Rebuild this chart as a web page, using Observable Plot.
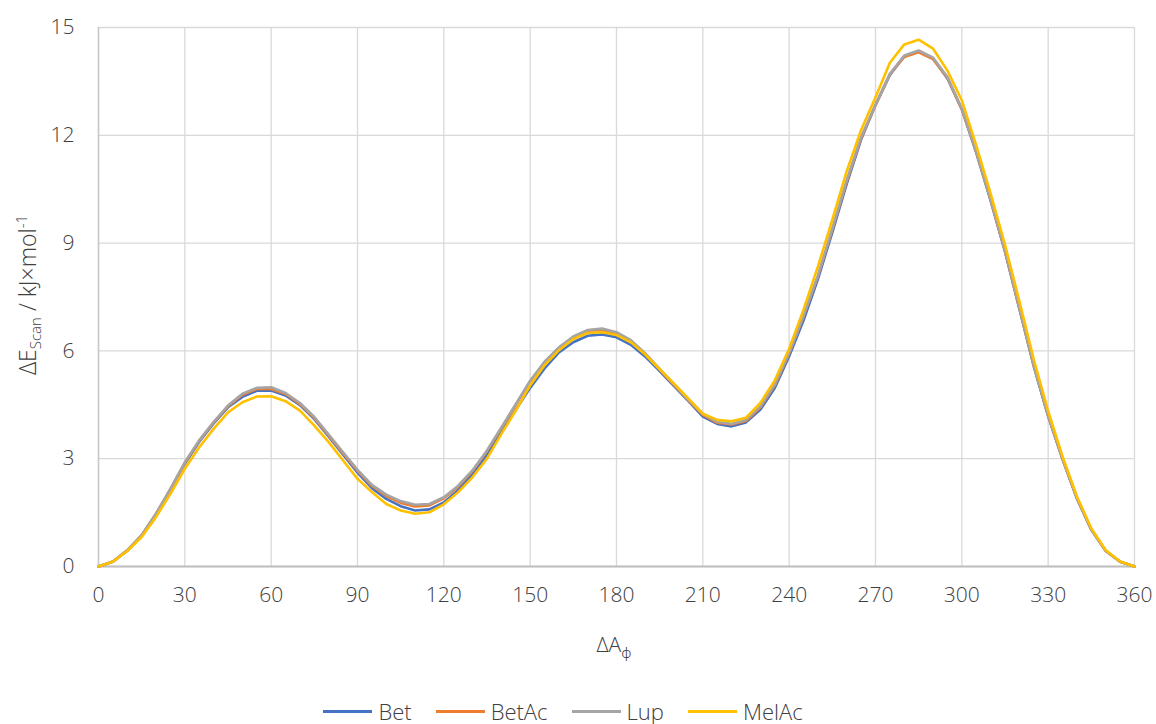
<!DOCTYPE html>
<html>
<head>
<meta charset="utf-8">
<script src="https://cdn.jsdelivr.net/npm/d3@7"></script>
<script src="https://cdn.jsdelivr.net/npm/@observablehq/plot@0.6"></script>
<style>
  html, body { margin: 0; padding: 0; background: #fff; }
  body { width: 1156px; height: 724px; overflow: hidden; font-family: "Open Sans", "Noto Sans", sans-serif; }
  #chart { height: 680px; }
  #chart svg { display: block; }
  #chart svg text { font-weight: 300; }
  #legend { display: flex; justify-content: center; align-items: center; height: 24px; line-height: 24px; font-size: 22px; font-weight: 300; color: #404040; margin-top: 19px; margin-left: -30px; }
  .item { display: flex; align-items: center; margin: 0 12px; }
  .swatch { width: 49px; height: 0; border-top: 3px solid; margin-right: 6px; }
</style>
</head>
<body>
<div id="chart"></div>
<div id="legend"></div>
<script>
const angles = [0,5,10,15,20,25,30,35,40,45,50,55,60,65,70,75,80,85,90,95,100,105,110,115,120,125,130,135,140,145,150,155,160,165,170,175,180,185,190,195,200,205,210,215,220,225,230,235,240,245,250,255,260,265,270,275,280,285,290,295,300,305,310,315,320,325,330,335,340,345,350,355,360];

const seriesNames = ["Bet", "BetAc", "Lup", "MelAc"];
const seriesColors = ["#4472C4", "#ED7D31", "#A5A5A5", "#FFC000"];

const bet = [0,0.13,0.44,0.86,1.46,2.14,2.86,3.47,3.98,4.43,4.72,4.89,4.90,4.76,4.49,4.10,3.61,3.11,2.61,2.18,1.88,1.68,1.56,1.59,1.78,2.13,2.58,3.12,3.74,4.36,4.97,5.51,5.96,6.24,6.42,6.46,6.38,6.17,5.84,5.44,5.02,4.60,4.17,3.97,3.90,4.01,4.37,4.97,5.85,6.85,8.00,9.30,10.65,11.88,12.84,13.68,14.20,14.33,14.14,13.58,12.72,11.52,10.18,8.76,7.17,5.57,4.18,2.98,1.89,1.02,0.43,0.13,0];

const betAc = [0,0.14,0.45,0.87,1.47,2.15,2.89,3.50,4.01,4.46,4.78,4.94,4.94,4.80,4.52,4.13,3.64,3.15,2.66,2.24,1.96,1.77,1.67,1.70,1.90,2.22,2.66,3.21,3.85,4.50,5.15,5.68,6.08,6.38,6.56,6.58,6.49,6.28,5.91,5.48,5.05,4.62,4.22,4.00,3.95,4.05,4.43,5.04,5.93,6.96,8.08,9.38,10.72,11.92,12.84,13.70,14.18,14.31,14.12,13.60,12.72,11.54,10.20,8.78,7.19,5.59,4.19,2.99,1.90,1.03,0.44,0.13,0];

const lup = [0,0.14,0.45,0.87,1.47,2.16,2.90,3.51,4.02,4.48,4.81,4.97,4.99,4.83,4.55,4.16,3.67,3.18,2.69,2.27,2.00,1.82,1.72,1.74,1.93,2.25,2.68,3.23,3.87,4.52,5.17,5.70,6.10,6.40,6.58,6.62,6.52,6.30,5.93,5.50,5.07,4.64,4.25,4.03,3.97,4.08,4.46,5.07,5.95,6.98,8.10,9.40,10.75,11.95,12.85,13.71,14.22,14.36,14.16,13.62,12.74,11.55,10.22,8.80,7.20,5.60,4.20,3.00,1.90,1.03,0.44,0.13,0];

const melAc = [0,0.13,0.43,0.82,1.38,2.02,2.72,3.32,3.83,4.29,4.57,4.73,4.74,4.60,4.34,3.92,3.46,2.95,2.44,2.07,1.74,1.56,1.47,1.51,1.73,2.07,2.49,3.00,3.69,4.34,5.04,5.60,6.02,6.33,6.50,6.52,6.44,6.24,5.90,5.49,5.09,4.67,4.25,4.08,4.04,4.14,4.55,5.18,6.06,7.15,8.35,9.65,11.00,12.15,13.06,14.02,14.53,14.66,14.41,13.80,12.97,11.72,10.38,8.95,7.38,5.76,4.32,3.06,1.95,1.06,0.45,0.14,0];

const xTicks = [0,30,60,90,120,150,180,210,240,270,300,330,360];
const yTicks = [0,3,6,9,12,15];

const valueSets = [bet, betAc, lup, melAc];
const rows = [];
seriesNames.forEach((name, i) => {
  angles.forEach((a, j) => rows.push({series: name, angle: a, energy: valueSets[i][j]}));
});

const W = 1156, H = 680;
const chart = Plot.plot({
  width: W,
  height: H,
  marginTop: 27,
  marginBottom: 114,
  marginLeft: 98,
  marginRight: 22,
  style: { fontFamily: "'Open Sans', 'Noto Sans', sans-serif", fontSize: "21px", color: "#404040", background: "#fff" },
  x: { domain: [0, 360] },
  y: { domain: [0, 15] },
  color: { domain: seriesNames, range: seriesColors },
  marks: [
    Plot.gridX(xTicks, { stroke: "#d9d9d9", strokeOpacity: 1, strokeWidth: 1.3 }),
    Plot.gridY(yTicks, { stroke: "#d9d9d9", strokeOpacity: 1, strokeWidth: 1.3 }),
    Plot.ruleX([0], { stroke: "#c8c8c8", strokeWidth: 1.5 }),
    Plot.ruleY([0], { stroke: "#bfbfbf", strokeWidth: 2 }),
    Plot.axisX(xTicks, { tickSize: 0, tickPadding: 21, label: null, fontSize: 21, fill: "#404040" }),
    Plot.axisY(yTicks, { tickSize: 0, tickPadding: 24, label: null, fontSize: 21, fill: "#404040" }),
    Plot.line(rows, { x: "angle", y: "energy", z: "series", stroke: "series", strokeWidth: 2.6, curve: "linear" })
  ]
});
document.getElementById("chart").appendChild(chart);

const svg = d3.select(chart);
// y-axis title
const yt = svg.append("text")
  .attr("transform", "translate(36,295) rotate(-90)")
  .attr("text-anchor", "middle")
  .attr("font-size", 23)
  .attr("fill", "#404040");
yt.append("tspan").text("ΔE");
yt.append("tspan").attr("dy", 5).attr("font-size", 15).text("Scan");
yt.append("tspan").attr("dy", -5).text(" / kJ×mol");
yt.append("tspan").attr("dy", -9).attr("font-size", 15).text("-1");

// x-axis title
const xt = svg.append("text")
  .attr("x", 614).attr("y", 652)
  .attr("text-anchor", "middle")
  .attr("font-size", 21)
  .attr("fill", "#404040");
xt.append("tspan").text("ΔA");
xt.append("tspan").attr("dy", 6).attr("font-size", 15).text("ϕ");

// legend
const legend = d3.select("#legend");
seriesNames.forEach((name, i) => {
  const item = legend.append("div").attr("class", "item");
  item.append("div").attr("class", "swatch").style("border-top-color", seriesColors[i]);
  item.append("span").text(name);
});
</script>
</body>
</html>
